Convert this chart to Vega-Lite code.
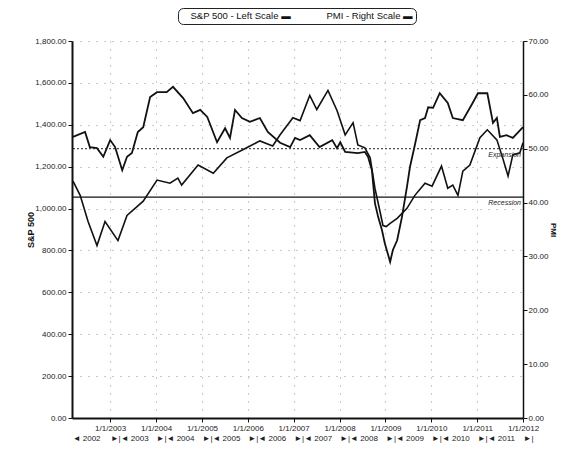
{
  "$schema": "https://vega.github.io/schema/vega-lite/v6.json",
  "width": 451,
  "height": 377,
  "autosize": {"type": "none"},
  "padding": {"left": 72, "top": 41, "right": 41, "bottom": 32},
  "background": "white",
  "config": {
    "view": {"stroke": null},
    "font": "Liberation Sans",
    "axis": {"labelFontSize": 8, "labelColor": "#222", "domainColor": "#111", "tickColor": "#111", "titleColor": "#111"}
  },
  "datasets": {
    "sp": [
      {"date": "2002-03-11", "value": 1131}, {"date": "2002-05-07", "value": 1063}, {"date": "2002-07-09", "value": 938},
      {"date": "2002-09-18", "value": 823}, {"date": "2002-11-21", "value": 938}, {"date": "2003-03-04", "value": 847},
      {"date": "2003-05-15", "value": 967}, {"date": "2003-09-21", "value": 1035}, {"date": "2004-01-09", "value": 1136},
      {"date": "2004-04-21", "value": 1121}, {"date": "2004-06-23", "value": 1145}, {"date": "2004-07-23", "value": 1112},
      {"date": "2004-12-01", "value": 1208}, {"date": "2005-04-01", "value": 1169}, {"date": "2005-07-18", "value": 1242},
      {"date": "2005-12-23", "value": 1290}, {"date": "2006-04-07", "value": 1323}, {"date": "2006-07-18", "value": 1299},
      {"date": "2006-09-15", "value": 1352}, {"date": "2006-12-26", "value": 1434}, {"date": "2007-02-21", "value": 1420},
      {"date": "2007-05-09", "value": 1540}, {"date": "2007-07-04", "value": 1473}, {"date": "2007-10-01", "value": 1564},
      {"date": "2007-12-12", "value": 1468}, {"date": "2008-02-15", "value": 1352}, {"date": "2008-04-18", "value": 1410},
      {"date": "2008-05-26", "value": 1304}, {"date": "2008-07-21", "value": 1290}, {"date": "2008-09-01", "value": 1242},
      {"date": "2008-10-09", "value": 1097}, {"date": "2008-11-18", "value": 987}, {"date": "2008-12-12", "value": 919},
      {"date": "2009-01-07", "value": 914}, {"date": "2009-02-07", "value": 929}, {"date": "2009-04-04", "value": 953},
      {"date": "2009-06-21", "value": 1001}, {"date": "2009-08-23", "value": 1063}, {"date": "2009-11-12", "value": 1121},
      {"date": "2010-01-07", "value": 1107}, {"date": "2010-03-23", "value": 1203}, {"date": "2010-05-12", "value": 1097},
      {"date": "2010-06-21", "value": 1112}, {"date": "2010-08-01", "value": 1063}, {"date": "2010-09-09", "value": 1179},
      {"date": "2010-11-04", "value": 1208}, {"date": "2011-01-23", "value": 1338}, {"date": "2011-03-23", "value": 1376},
      {"date": "2011-06-07", "value": 1328}, {"date": "2011-07-23", "value": 1242}, {"date": "2011-09-04", "value": 1155},
      {"date": "2011-10-12", "value": 1256}, {"date": "2011-12-07", "value": 1266}, {"date": "2012-01-01", "value": 1314}
    ],
    "pmi": [
      {"date": "2002-03-11", "value": 52.2}, {"date": "2002-06-15", "value": 53.1}, {"date": "2002-07-23", "value": 50.3},
      {"date": "2002-09-18", "value": 50.1}, {"date": "2002-11-07", "value": 48.5}, {"date": "2003-01-01", "value": 51.6},
      {"date": "2003-02-09", "value": 50.3}, {"date": "2003-04-07", "value": 46.0}, {"date": "2003-05-15", "value": 48.5},
      {"date": "2003-06-23", "value": 49.2}, {"date": "2003-08-09", "value": 53.1}, {"date": "2003-09-21", "value": 54.0},
      {"date": "2003-11-15", "value": 59.6}, {"date": "2004-01-09", "value": 60.5}, {"date": "2004-03-26", "value": 60.5},
      {"date": "2004-05-15", "value": 61.5}, {"date": "2004-08-04", "value": 59.4}, {"date": "2004-10-21", "value": 56.6},
      {"date": "2004-12-18", "value": 57.2}, {"date": "2005-02-12", "value": 55.9}, {"date": "2005-05-01", "value": 51.2},
      {"date": "2005-07-04", "value": 53.8}, {"date": "2005-08-12", "value": 52.0}, {"date": "2005-09-21", "value": 57.2},
      {"date": "2005-11-15", "value": 55.7}, {"date": "2006-01-18", "value": 55.0}, {"date": "2006-04-07", "value": 55.7},
      {"date": "2006-06-09", "value": 53.1}, {"date": "2006-09-15", "value": 51.1}, {"date": "2006-12-04", "value": 50.3},
      {"date": "2007-01-12", "value": 52.0}, {"date": "2007-02-21", "value": 51.6}, {"date": "2007-05-09", "value": 52.5},
      {"date": "2007-07-26", "value": 50.3}, {"date": "2007-11-04", "value": 51.6}, {"date": "2007-12-12", "value": 50.1},
      {"date": "2008-01-07", "value": 51.2}, {"date": "2008-02-15", "value": 49.4}, {"date": "2008-05-26", "value": 49.2},
      {"date": "2008-07-21", "value": 49.4}, {"date": "2008-08-15", "value": 48.5}, {"date": "2008-09-15", "value": 46.0},
      {"date": "2008-10-09", "value": 39.9}, {"date": "2008-11-04", "value": 37.3}, {"date": "2008-12-04", "value": 34.9},
      {"date": "2008-12-26", "value": 32.5}, {"date": "2009-02-07", "value": 29.0}, {"date": "2009-03-01", "value": 31.2},
      {"date": "2009-04-04", "value": 33.0}, {"date": "2009-05-12", "value": 37.3}, {"date": "2009-06-21", "value": 42.9},
      {"date": "2009-07-15", "value": 46.6}, {"date": "2009-08-23", "value": 50.7}, {"date": "2009-10-04", "value": 55.3},
      {"date": "2009-11-12", "value": 55.7}, {"date": "2009-12-07", "value": 57.7}, {"date": "2010-01-15", "value": 57.6},
      {"date": "2010-03-09", "value": 60.3}, {"date": "2010-05-12", "value": 58.5}, {"date": "2010-06-21", "value": 55.7},
      {"date": "2010-09-09", "value": 55.3}, {"date": "2010-11-26", "value": 58.5}, {"date": "2011-01-07", "value": 60.3},
      {"date": "2011-03-23", "value": 60.3}, {"date": "2011-05-07", "value": 54.8}, {"date": "2011-06-07", "value": 55.7},
      {"date": "2011-07-01", "value": 52.2}, {"date": "2011-08-23", "value": 52.5}, {"date": "2011-10-12", "value": 52.0},
      {"date": "2012-01-01", "value": 54.0}
    ],
    "refs": [
      {"label": "Expansion", "level": 50},
      {"label": "Recession", "level": 41}
    ]
  },
  "layer": [
    {
      "data": {"name": "sp"},
      "mark": {"type": "line", "strokeWidth": 1.6, "interpolate": "linear"},
      "encoding": {
        "x": {
          "field": "date", "type": "temporal",
          "scale": {"type": "utc", "domain": [{"year": 2002, "month": 3, "date": 3, "utc": true}, {"year": 2012, "month": 1, "date": 1, "utc": true}]},
          "axis": {
            "title": null,
            "values": [
              {"year": 2003, "month": 1, "date": 1, "utc": true}, {"year": 2004, "month": 1, "date": 1, "utc": true},
              {"year": 2005, "month": 1, "date": 1, "utc": true}, {"year": 2006, "month": 1, "date": 1, "utc": true},
              {"year": 2007, "month": 1, "date": 1, "utc": true}, {"year": 2008, "month": 1, "date": 1, "utc": true},
              {"year": 2009, "month": 1, "date": 1, "utc": true}, {"year": 2010, "month": 1, "date": 1, "utc": true},
              {"year": 2011, "month": 1, "date": 1, "utc": true}, {"year": 2012, "month": 1, "date": 1, "utc": true}
            ],
            "labelExpr": "utcFormat(datum.value, '%-m/%-d/%Y')",
            "labelFlush": false,
            "labelOverlap": false,
            "grid": true, "gridColor": "#999", "gridDash": [1, 7], "gridWidth": 1,
            "domainWidth": 2, "tickSize": 4, "labelPadding": 2
          }
        },
        "y": {
          "field": "value", "type": "quantitative",
          "scale": {"domain": [0, 1800], "nice": false},
          "axis": {
            "orient": "left",
            "values": [0, 200, 400, 600, 800, 1000, 1200, 1400, 1600, 1800],
            "format": ",.2f",
            "title": "S&P 500", "titleFontSize": 9, "titleFontWeight": "bold", "titlePadding": -1,
            "grid": true, "gridColor": "#999", "gridDash": [1, 7], "gridWidth": 1,
            "domainWidth": 2, "tickSize": 4, "labelPadding": 2
          }
        },
        "color": {
          "datum": "S&P 500 - Left Scale", "type": "nominal",
          "scale": {"domain": ["S&P 500 - Left Scale", "PMI - Right Scale"], "range": ["#111111", "#111111"]},
          "legend": {
            "orient": "none", "legendX": 106, "legendY": -33, "direction": "horizontal", "title": null,
            "strokeColor": "#222", "fillColor": "white", "padding": 3, "cornerRadius": 5,
            "labelFontSize": 9.5, "labelColor": "#111", "labelExpr": "datum.label + ' \u25ac'",
            "symbolOpacity": 0, "symbolSize": 0, "symbolStrokeWidth": 0, "labelOffset": 0, "columnPadding": 26
          }
        }
      }
    },
    {
      "data": {"name": "pmi"},
      "mark": {"type": "line", "strokeWidth": 1.8, "interpolate": "linear"},
      "encoding": {
        "x": {
          "field": "date", "type": "temporal",
          "scale": {"type": "utc", "domain": [{"year": 2002, "month": 3, "date": 3, "utc": true}, {"year": 2012, "month": 1, "date": 1, "utc": true}]},
          "axis": null
        },
        "y": {
          "field": "value", "type": "quantitative",
          "scale": {"domain": [0, 70], "nice": false},
          "axis": {
            "orient": "right",
            "values": [0, 10, 20, 30, 40, 50, 60, 70],
            "format": ".2f",
            "title": "PMI", "titleFontSize": 8, "titleFontWeight": "bold", "titlePadding": 0,
            "grid": false, "domainWidth": 1.5, "tickSize": 4, "labelPadding": 1
          }
        },
        "color": {"datum": "PMI - Right Scale", "type": "nominal"}
      }
    },
    {
      "data": {"name": "refs"},
      "transform": [{"filter": "datum.label === 'Expansion'"}],
      "mark": {"type": "rule", "strokeDash": [2, 2], "color": "#222", "strokeWidth": 1},
      "encoding": {
        "y": {"field": "level", "type": "quantitative", "scale": {"domain": [0, 70], "nice": false}, "axis": null}
      }
    },
    {
      "data": {"name": "refs"},
      "transform": [{"filter": "datum.label === 'Recession'"}],
      "mark": {"type": "rule", "color": "#111", "strokeWidth": 1.2},
      "encoding": {
        "y": {"field": "level", "type": "quantitative", "scale": {"domain": [0, 70], "nice": false}, "axis": null}
      }
    },
    {
      "data": {"name": "refs"},
      "mark": {"type": "text", "align": "right", "baseline": "top", "dx": -2, "dy": 2, "fontSize": 7, "fontStyle": "italic", "color": "#222"},
      "encoding": {
        "x": {
          "datum": {"year": 2012, "month": 1, "date": 1, "utc": true}, "type": "temporal",
          "scale": {"type": "utc", "domain": [{"year": 2002, "month": 3, "date": 3, "utc": true}, {"year": 2012, "month": 1, "date": 1, "utc": true}]},
          "axis": null
        },
        "y": {"field": "level", "type": "quantitative", "scale": {"domain": [0, 70], "nice": false}, "axis": null},
        "text": {"field": "label"}
      }
    },
    {
      "data": {"name": "pmi"},
      "mark": {"type": "point", "opacity": 0},
      "encoding": {
        "x": {
          "field": "date", "type": "temporal",
          "scale": {"type": "utc", "domain": [{"year": 2002, "month": 3, "date": 3, "utc": true}, {"year": 2012, "month": 1, "date": 1, "utc": true}]},
          "axis": {
            "orient": "bottom", "offset": 14, "title": null,
            "values": [
              {"year": 2002, "month": 3, "date": 4, "utc": true},
              {"year": 2003, "month": 1, "date": 1, "utc": true}, {"year": 2004, "month": 1, "date": 1, "utc": true},
              {"year": 2005, "month": 1, "date": 1, "utc": true}, {"year": 2006, "month": 1, "date": 1, "utc": true},
              {"year": 2007, "month": 1, "date": 1, "utc": true}, {"year": 2008, "month": 1, "date": 1, "utc": true},
              {"year": 2009, "month": 1, "date": 1, "utc": true}, {"year": 2010, "month": 1, "date": 1, "utc": true},
              {"year": 2011, "month": 1, "date": 1, "utc": true}, {"year": 2012, "month": 1, "date": 1, "utc": true}
            ],
            "labelExpr": "utcyear(datum.value) === 2002 ? '\u00a0\u00a0\u25c4 2002' : (utcyear(datum.value) === 2012 ? '\u25ba|' : '\u25ba|\u25c4 ' + utcyear(datum.value))",
            "labelAlign": "left", "labelDx": -9, "labelFlush": false, "labelOverlap": false,
            "ticks": false, "tickSize": 0, "domain": false, "grid": false, "labelPadding": 2, "labelFontSize": 8
          }
        }
      }
    }
  ],
  "resolve": {"scale": {"x": "independent", "y": "independent"}}
}
